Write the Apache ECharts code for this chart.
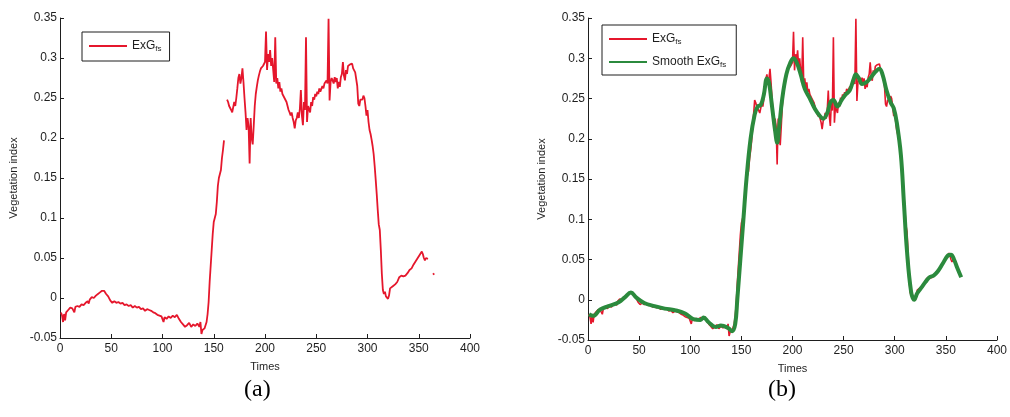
<!DOCTYPE html>
<html>
<head>
<meta charset="utf-8">
<script src="https://cdn.jsdelivr.net/npm/echarts@6/dist/echarts.min.js"></script>
<style>
html,body{margin:0;padding:0;background:#fff;}
#chart{width:1010px;height:417px;}
</style>
</head>
<body>
<div id="chart"></div>
<script>
// raw ExG_fs values (null = gap in the record)
var rawTimes = [1,2,3,4,5,6,8,10,12,14,15,17,19,21,23,25,27,28,29,31,33,35,37,39,41,42,43,45,47,49,
  51,53,55,57,59,61,63,65,67,69,71,73,75,77,79,81,83,85,87,89,91,93,95,97,99,101,102,104,106,108,
  110,112,114,116,118,120,122,124,126,128,130,132,134,136,137,138,139,140,141,142,143,144,145,146,147,148,149,150,
  151,152,153,154,155,156,157,158,159,160,161,163,164,165,166,167,168,169,170,171,172,173,174,175,176,177,178,179,180,
  181,182,183,184,185,186,187,188,189,190,191,192,193,194,195,196,197,198,199,200,201,202,203,204,205,206,207,208,209,210,
  211,212,213,214,215,216,217,218,219,220,221,222,223,224,225,226,227,228,229,230,231,232,233,234,235,236,237,238,239,240,
  241,242,243,244,245,246,247,248,249,250,251,252,253,254,255,256,257,258,259,260,261,262,263,264,265,266,267,268,269,270,
  271,272,273,274,275,276,277,278,279,280,281,282,283,284,285,286,287,288,289,290,291,292,293,294,295,296,297,298,299,300,
  301,302,303,304,305,306,307,308,309,310,311,312,313,314,315,316,317,318,319,320,321,322,323,325,327,329,331,333,335,337,
  339,341,343,345,347,349,351,353,354,355,356,357,358,359,360,364,365];
var rawValues = [-0.018,-0.022,-0.03,-0.02,-0.028,-0.018,-0.015,-0.012,-0.013,-0.018,-0.011,-0.01,-0.011,-0.008,-0.009,-0.006,-0.004,-0.007,-0.002,0.001,0.0,0.003,0.005,0.007,0.009,0.01,0.009,0.005,0.002,-0.003,
  -0.006,-0.004,-0.006,-0.005,-0.007,-0.006,-0.009,-0.008,-0.01,-0.009,-0.012,-0.01,-0.012,-0.011,-0.014,-0.013,-0.016,-0.014,-0.015,-0.016,-0.018,-0.019,-0.021,-0.022,-0.023,-0.03,-0.024,-0.026,-0.023,-0.025,
  -0.022,-0.024,-0.021,-0.026,-0.03,-0.033,-0.036,-0.034,-0.031,-0.036,-0.033,-0.035,-0.032,-0.036,-0.03,-0.045,-0.04,-0.042,-0.038,-0.036,-0.03,-0.02,-0.005,0.02,0.04,0.06,0.08,0.095,
  0.1,0.105,0.12,0.14,0.15,0.155,0.16,0.175,0.185,0.197,null,0.248,0.245,0.24,0.238,0.235,0.232,0.23,0.245,0.24,0.25,0.262,0.275,0.28,0.268,0.275,0.287,0.27,0.25,
  0.232,0.21,0.225,0.215,0.168,0.225,0.2,0.192,0.215,0.24,0.255,0.264,0.272,0.278,0.283,0.287,0.285,0.29,0.288,0.295,0.333,0.285,0.305,0.295,0.31,0.29,0.3,0.285,0.27,0.326,
  0.268,0.275,0.262,0.27,0.258,0.262,0.255,0.257,0.25,0.251,0.245,0.24,0.235,0.232,0.228,0.232,0.225,0.22,0.212,0.222,0.225,0.232,0.225,0.236,0.26,0.228,0.216,0.245,0.235,0.326,
  0.22,0.24,0.238,0.232,0.245,0.24,0.251,0.248,0.255,0.252,0.258,0.255,0.262,0.258,0.26,0.265,0.262,0.268,0.27,0.272,0.268,0.349,0.247,0.27,0.275,0.272,0.268,0.276,0.27,0.275,
  0.262,0.27,0.264,0.276,0.28,0.295,0.278,0.272,0.285,0.28,0.29,0.288,0.292,0.29,0.293,0.287,0.285,0.282,0.28,0.265,0.243,0.24,0.248,0.25,0.248,0.253,0.25,0.24,0.228,0.235,
  0.22,0.21,0.205,0.198,0.19,0.18,0.165,0.148,0.13,0.11,0.092,0.085,0.06,0.03,0.01,0.005,0.008,0.002,0.0,-0.001,0.003,0.012,0.014,0.015,0.017,0.02,0.026,0.028,0.027,0.028,
  0.031,0.035,0.037,0.042,0.046,0.05,0.054,0.058,0.055,0.05,0.047,0.05,0.048,0.049,null,0.031,0.029];

// smoothed ExG_fs
var smoothTimes = [1,5,12,20,30,36,42,47,55,65,75,85,95,103,110,113,118,125,130,137,141,144,146,149,152,155,159,163,166,169,
  172,175,177,180,183,185,187,190,194,198,201,204,208,212,217,222,227,230,234,237,240,244,248,252,256,260,262,265,268,272,
  276,281,285,288,292,296,299,302,306,309,312,316,319,322,326,330,334,338,342,347,352,355,358,361,365];
var smoothValues = [-0.018,-0.02,-0.012,-0.008,-0.003,0.003,0.009,0.003,-0.004,-0.008,-0.011,-0.013,-0.017,-0.024,-0.025,-0.022,-0.028,-0.034,-0.032,-0.035,-0.039,-0.03,0.0,0.05,0.1,0.15,0.2,0.23,0.24,0.242,
  0.255,0.275,0.27,0.24,0.21,0.195,0.215,0.25,0.28,0.295,0.3,0.295,0.28,0.262,0.25,0.237,0.228,0.225,0.232,0.245,0.248,0.24,0.248,0.255,0.26,0.275,0.28,0.275,0.268,0.27,
  0.275,0.283,0.287,0.28,0.26,0.245,0.238,0.22,0.18,0.12,0.06,0.01,0.0,0.008,0.015,0.022,0.028,0.03,0.035,0.045,0.055,0.056,0.05,0.04,0.028];

var xTicks = [0, 400, 50];
var yTicks = [-0.05, 0.35, 0.05];

var red = '#e5172c', green = '#2b8a3d', ink = '#1e1e1e';

function pairs(t, v) {
    return t.map(function (d, i) { return [d, v[i]]; });
}
var rawData = pairs(rawTimes, rawValues);
var smoothData = pairs(smoothTimes, smoothValues);

var chart = echarts.init(document.getElementById('chart'));

function xAxis(idx) {
    return {
        type: 'value', gridIndex: idx,
        min: xTicks[0], max: xTicks[1], interval: xTicks[2],
        name: 'Times', nameLocation: 'middle', nameGap: 23,
        nameTextStyle: {color: ink, fontSize: 11, fontFamily: 'Liberation Sans'},
        axisLine: {onZero: false, lineStyle: {color: ink, width: 1}},
        axisTick: {inside: true, length: 4, lineStyle: {color: ink}},
        axisLabel: {color: ink, fontSize: 12, fontFamily: 'Liberation Sans', margin: 5},
        splitLine: {show: false}
    };
}
function yAxis(idx) {
    return {
        type: 'value', gridIndex: idx,
        min: yTicks[0], max: yTicks[1], interval: yTicks[2],
        name: 'Vegetation index', nameLocation: 'middle', nameGap: 41,
        nameTextStyle: {color: ink, fontSize: 11, fontFamily: 'Liberation Sans'},
        axisLine: {show: true, onZero: false, lineStyle: {color: ink, width: 1}},
        axisTick: {show: true, inside: true, length: 4, lineStyle: {color: ink}},
        axisLabel: {color: ink, fontSize: 12, fontFamily: 'Liberation Sans', margin: 3,
            formatter: function (v) { return +v.toFixed(2) + ''; }},
        splitLine: {show: false}
    };
}

var legendRich = {
    n: {fontSize: 12, color: ink, fontFamily: 'Liberation Sans'},
    s: {fontSize: 8, color: ink, fontFamily: 'Liberation Sans', verticalAlign: 'bottom', padding: [6, 0, 0, 0]}
};
function legendFmt(name) {
    return name.indexOf('Smooth') === 0 ? '{n|Smooth ExG}{s|fs}' : '{n|ExG}{s|fs}';
}

chart.setOption({
    backgroundColor: '#fff',
    animation: false,
    grid: [
        {left: 60, top: 18, width: 410, height: 320},
        {left: 588, top: 18, width: 412, height: 322}
    ],
    xAxis: [xAxis(0), xAxis(1)],
    yAxis: [yAxis(0), yAxis(1)],
    legend: [
        {
            data: ['ExGfs'], left: 82, top: 32, orient: 'vertical',
            itemWidth: 38, itemHeight: 10, itemGap: 4,
            padding: [8, 8, 8, 6],
            borderColor: ink, borderWidth: 1,
            itemStyle: {opacity: 0},
            formatter: legendFmt, textStyle: {rich: legendRich}
        },
        {
            data: ['ExGfs ', 'Smooth ExGfs'], left: 602, top: 25, orient: 'vertical',
            itemWidth: 38, itemHeight: 10, itemGap: 10,
            padding: [8, 10, 6, 6],
            borderColor: ink, borderWidth: 1,
            itemStyle: {opacity: 0},
            formatter: legendFmt, textStyle: {rich: legendRich}
        }
    ],
    graphic: [
        {type: 'text', left: 244, top: 378, style: {text: '(a)', font: '24px "Liberation Serif"', fill: '#000'}},
        {type: 'text', left: 768, top: 378, style: {text: '(b)', font: '24px "Liberation Serif"', fill: '#000'}}
    ],
    series: [
        {
            name: 'ExGfs', type: 'line', xAxisIndex: 0, yAxisIndex: 0,
            data: rawData, symbol: 'none', connectNulls: false,
            lineStyle: {color: red, width: 1.8}, itemStyle: {color: red}
        },
        {
            name: 'ExGfs ', type: 'line', xAxisIndex: 1, yAxisIndex: 1,
            data: rawData, symbol: 'none', connectNulls: true,
            lineStyle: {color: red, width: 1.6}, itemStyle: {color: red}
        },
        {
            name: 'Smooth ExGfs', type: 'line', xAxisIndex: 1, yAxisIndex: 1,
            data: smoothData, symbol: 'none', smooth: 0.4,
            lineStyle: {color: green, width: 4}, itemStyle: {color: green}
        }
    ]
});
</script>
</body>
</html>
